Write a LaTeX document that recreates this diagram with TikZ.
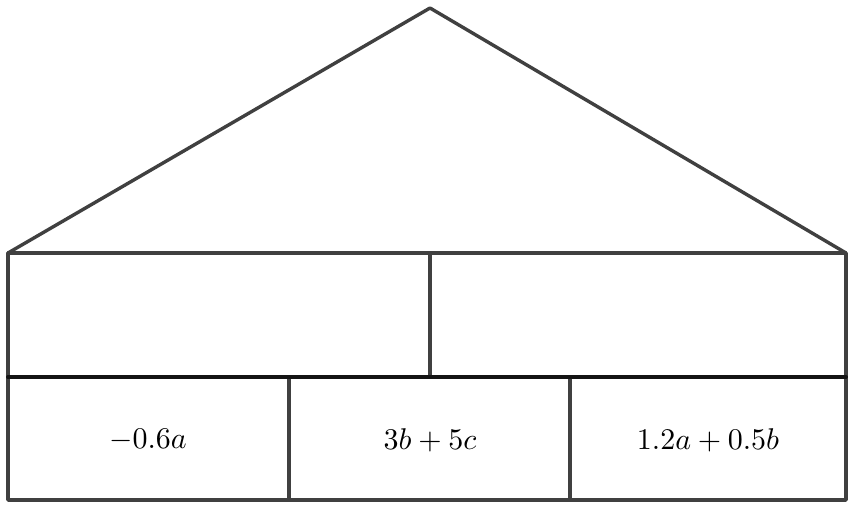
\documentclass[tikz,border=0pt]{standalone}
\begin{document}
\begin{tikzpicture}[x=1pt,y=-1pt,
  edge/.style={draw=black!75,line width=3.4pt,line cap=round,line join=round},
  dark/.style={draw=black!92,line width=4pt,line cap=round},
  lbl/.style={transform shape,scale=3.0}]
\useasboundingbox (0,0) rectangle (848,504);
\coordinate (apex) at (430,8);
\coordinate (bl) at (8,253);
\coordinate (br) at (846,253);
\coordinate (ml) at (8,377);
\coordinate (mr) at (846,377);
\coordinate (ll) at (8,500);
\coordinate (lr) at (846,500);
\coordinate (mt) at (430,253);
\coordinate (mb) at (430,377);
\coordinate (d1t) at (289,377);
\coordinate (d1b) at (289,500);
\coordinate (d2t) at (570,377);
\coordinate (d2b) at (570,500);
\draw[edge] (bl) -- (apex) -- (br);
\draw[edge] (bl) -- (br) -- (lr) -- (ll) -- cycle;
\draw[edge] (mt) -- (mb);
\draw[edge] (d1t) -- (d1b);
\draw[edge] (d2t) -- (d2b);
\draw[dark] (ml) -- (mr);
\node[lbl] (t1) at (148,440) {$-0.6a$};
\node[lbl] (t2) at (430,440) {$3b+5c$};
\node[lbl] (t3) at (708,440) {$1.2a+0.5b$};
\end{tikzpicture}
\end{document}
